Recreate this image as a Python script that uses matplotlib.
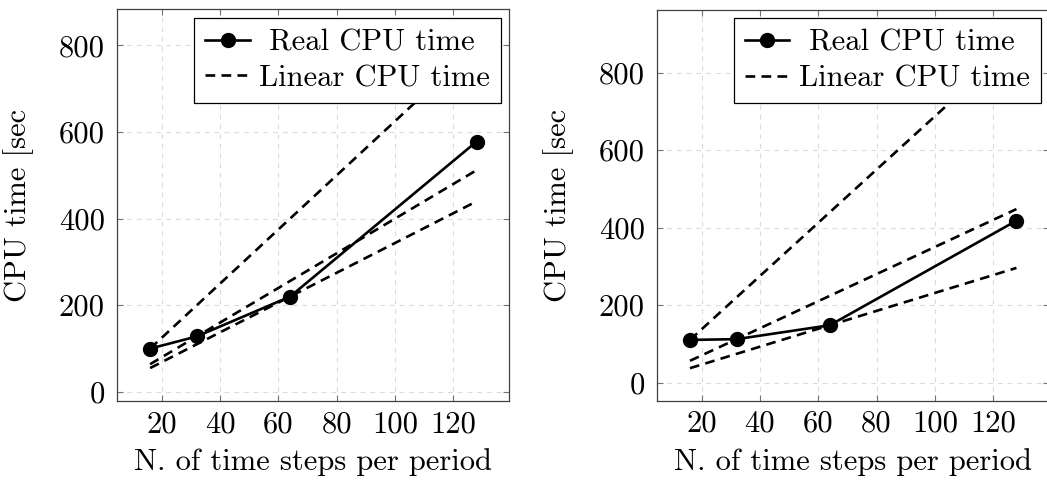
import matplotlib
matplotlib.use("Agg")
import matplotlib.pyplot as plt

# ---- data ----
steps = [16, 32, 64, 128]
real_left = [100, 128, 220, 578]
real_right = [110, 112, 148, 418]

# linear-scaling reference lines, values at the endpoints x = 16 and x = 128
lin_x = [16, 128]
lin_left = [[100, 800], [64, 512], [55, 440]]
lin_right = [[110, 880], [56, 448], [37, 296]]

xticks = [20, 40, 60, 80, 100, 120]
yticks = [0, 200, 400, 600, 800]
ylims = [(-21, 883), (-47, 963)]

plt.rcParams["font.family"] = "cmr10"
plt.rcParams["axes.formatter.use_mathtext"] = False
plt.rcParams["lines.scale_dashes"] = False

FS = 22
fig = plt.figure(figsize=(10.47, 4.83), dpi=100)
positions = [[0.1122, 0.1698, 0.3742, 0.8106], [0.6278, 0.1704, 0.3742, 0.8095]]

for pos, real, lins, yl in zip(positions, [real_left, real_right], [lin_left, lin_right], ylims):
    ax = fig.add_axes(pos)
    ax.plot(steps, real, color="black", lw=1.9, marker="o", markersize=10,
            label=" Real CPU time", zorder=3)
    for i, ln in enumerate(lins):
        ax.plot(lin_x, ln, color="black", lw=1.9, linestyle=(0, (7.0, 4.5)),
                label="Linear CPU time" if i == 0 else "_nolegend_", zorder=2)
    ax.set_xlim(4.8, 139.2)
    ax.set_ylim(*yl)
    ax.set_xticks(xticks)
    ax.set_yticks(yticks)
    ax.set_xticklabels([str(v) for v in xticks])
    ax.set_yticklabels([str(v) for v in yticks])
    ax.grid(True, color="0.86", linestyle=(0, (3.5, 3.5)), lw=0.8)
    ax.set_axisbelow(True)
    for s in ax.spines.values():
        s.set_color("0.25")
        s.set_linewidth(0.9)
    ax.tick_params(direction="in", length=4.5, width=0.8, color="0.45",
                   top=True, right=True, labelsize=FS)
    ax.tick_params(axis="x", pad=7)
    ax.tick_params(axis="y", pad=9)
    ax.set_xlabel("N. of time steps per period", fontsize=FS)
    ax.set_ylabel("CPU time [sec", fontsize=FS)
    ax.xaxis.set_label_coords(0.5, -0.12)
    ax.yaxis.set_label_coords(-0.212, 0.5)
    leg = ax.legend(loc="upper right", fontsize=FS, frameon=True, fancybox=False,
                    edgecolor="black", framealpha=1.0, borderaxespad=0.28,
                    borderpad=0.36, labelspacing=0.27, handlelength=1.45,
                    handletextpad=0.3)
    leg.get_frame().set_linewidth(0.9)

fig.savefig("out.png", dpi=100)
